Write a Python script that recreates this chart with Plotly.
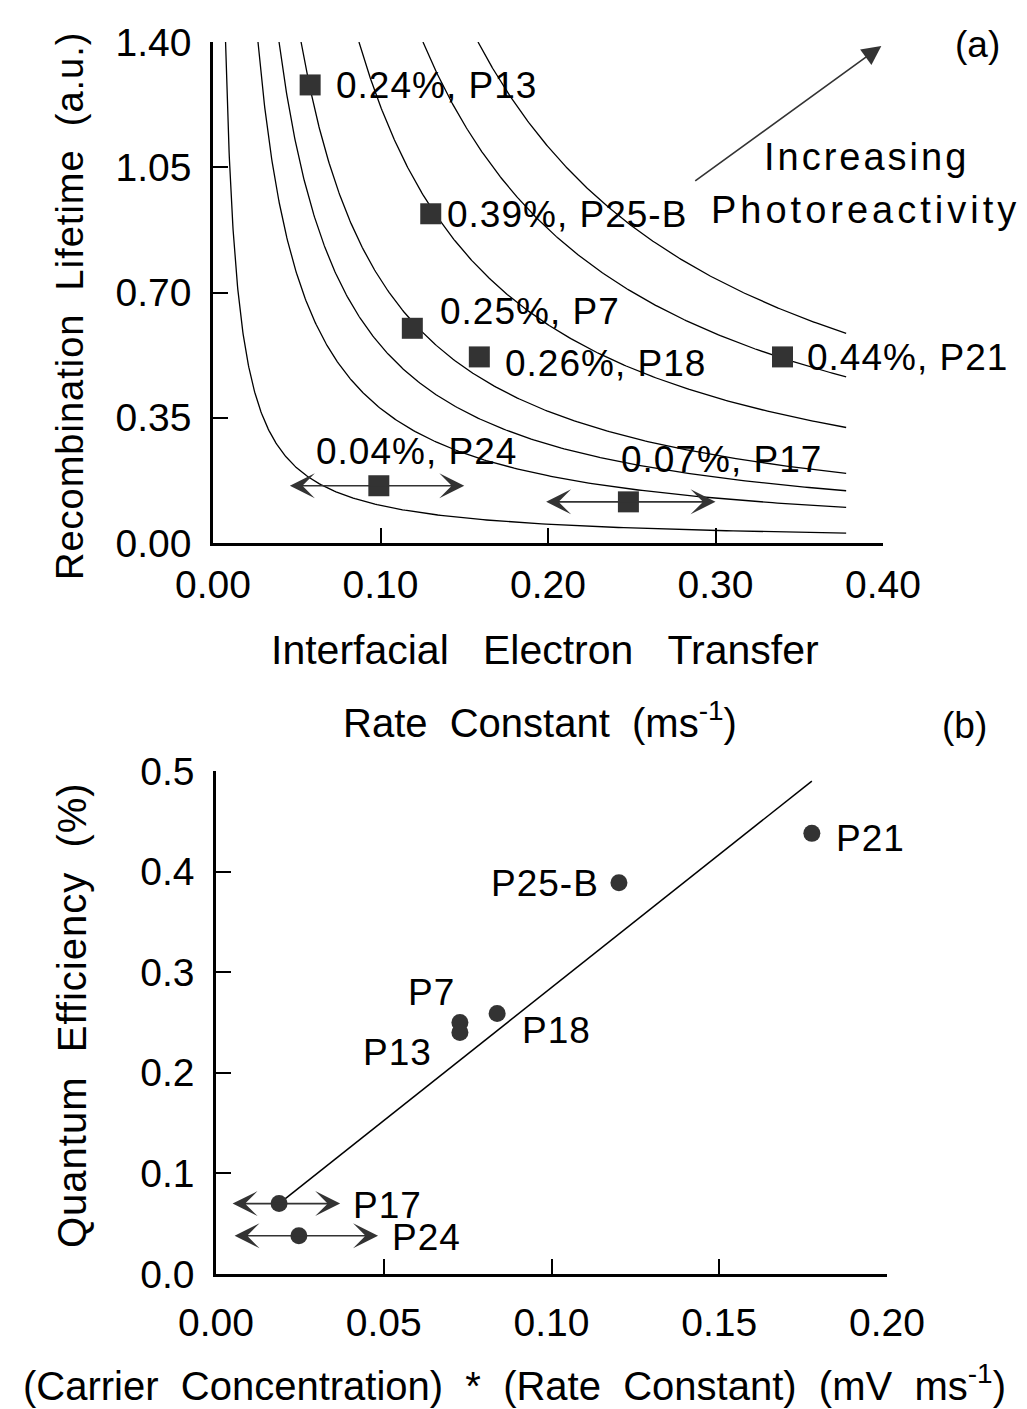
import numpy as np
import plotly.graph_objects as go

# ---------------- panel (a) data ----------------
a_samples = ["P13", "P25-B", "P7", "P18", "P21", "P24", "P17"]
a_qe_text = ["0.24%", "0.39%", "0.25%", "0.26%", "0.44%", "0.04%", "0.07%"]
a_rate = [0.058, 0.130, 0.119, 0.159, 0.340, 0.099, 0.248]          # ms^-1
a_lifetime = [1.28, 0.92, 0.60, 0.52, 0.52, 0.16, 0.115]           # a.u.
a_range_samples = ["P24", "P17"]
a_range_lo = [0.045, 0.198]
a_range_hi = [0.150, 0.300]
iso_levels = [0.0105, 0.0376, 0.0552, 0.0736, 0.122, 0.1755, 0.2215]  # k*tau = const
iso_rate_max = 0.378
trend_from = [0.287, 1.009]
trend_to = [0.399, 1.389]
a_xtick_vals = [0.0, 0.1, 0.2, 0.3, 0.4]
a_xtick_text = ["0.00", "0.10", "0.20", "0.30", "0.40"]
a_ytick_vals = [0.0, 0.35, 0.70, 1.05, 1.40]
a_ytick_text = ["0.00", "0.35", "0.70", "1.05", "1.40"]

# ---------------- panel (b) data ----------------
b_samples = ["P21", "P25-B", "P18", "P7", "P13", "P17", "P24"]
b_nk = [0.1776, 0.1201, 0.0838, 0.0727, 0.0727, 0.0188, 0.0247]    # mV ms^-1
b_qe = [0.438, 0.389, 0.259, 0.250, 0.240, 0.070, 0.038]           # %
b_range_samples = ["P17", "P24"]
b_range_lo = [0.0045, 0.0051]
b_range_hi = [0.0370, 0.0483]
fit_x = [0.0188, 0.1776]
fit_y = [0.070, 0.490]
b_xtick_vals = [0.0, 0.05, 0.10, 0.15, 0.20]
b_xtick_text = ["0.00", "0.05", "0.10", "0.15", "0.20"]
b_ytick_vals = [0.0, 0.1, 0.2, 0.3, 0.4, 0.5]
b_ytick_text = ["0.0", "0.1", "0.2", "0.3", "0.4", "0.5"]

# ---------------- styles ----------------
FONT = "Liberation Sans, Arial, Helvetica, sans-serif"
W, H = 1027, 1409
MARK = "#333333"
NB = "\u00a0"
a_label_style = {
    "P13": dict(xanchor="left", xshift=24, yshift=-1),
    "P25-B": dict(xanchor="left", xshift=14, yshift=-1),
    "P7": dict(xanchor="left", xshift=26, yshift=17),
    "P18": dict(xanchor="left", xshift=24, yshift=-7),
    "P21": dict(xanchor="left", xshift=22, yshift=-1),
    "P24": dict(xanchor="center", xshift=38, yshift=34),
    "P17": dict(xanchor="center", xshift=93, yshift=42),
}
b_label_style = {
    "P21": dict(xanchor="left", xshift=22, yshift=-5),
    "P25-B": dict(xanchor="right", xshift=-18, yshift=-1),
    "P18": dict(xanchor="left", xshift=23, yshift=-17),
    "P7": dict(xanchor="right", xshift=-3, yshift=30),
    "P13": dict(xanchor="right", xshift=-26, yshift=-20),
    "P17": dict(xanchor="left", xshift=72, yshift=-2),
    "P24": dict(xanchor="left", xshift=91, yshift=-2),
}


def px_x(p):
    return p / W


def px_y(p):
    return 1 - p / H


def spaced(text, px):
    return f'<span style="letter-spacing:{px}px">{text}</span>'


fig = go.Figure()

# iso-photoreactivity curves (tau = const / k)
for c in iso_levels:
    xs = np.geomspace(c / a_ytick_vals[-1], iso_rate_max, 300)
    fig.add_trace(go.Scatter(x=xs, y=c / xs, mode="lines",
                             line=dict(color="black", width=1.3),
                             xaxis="x", yaxis="y", hoverinfo="skip"))

fig.add_trace(go.Scatter(x=a_rate, y=a_lifetime, mode="markers",
                         marker=dict(symbol="square", size=21, color=MARK),
                         xaxis="x", yaxis="y", cliponaxis=False))

fig.add_trace(go.Scatter(x=fit_x, y=fit_y, mode="lines",
                         line=dict(color="black", width=1.5),
                         xaxis="x2", yaxis="y2"))
fig.add_trace(go.Scatter(x=b_nk, y=b_qe, mode="markers",
                         marker=dict(symbol="circle", size=17, color=MARK),
                         xaxis="x2", yaxis="y2", cliponaxis=False))

ann = []
lab_font = dict(family=FONT, size=37, color="black")

for s, q, x, y in zip(a_samples, a_qe_text, a_rate, a_lifetime):
    st = a_label_style[s]
    ann.append(dict(x=x, y=y, xref="x", yref="y", text=spaced(f"{q}, {s}", 1),
                    showarrow=False, font=lab_font, yanchor="middle", **st))
for s, x, y in zip(b_samples, b_nk, b_qe):
    st = b_label_style[s]
    ann.append(dict(x=x, y=y, xref="x2", yref="y2", text=spaced(s, 1),
                    showarrow=False, font=lab_font, yanchor="middle", **st))

# double-headed range arrows
arrow_common = dict(text="", showarrow=True, arrowside="end+start",
                    arrowhead=3, startarrowhead=3, arrowsize=2.6,
                    startarrowsize=2.6, arrowwidth=1.6, arrowcolor=MARK)
for s, lo, hi in zip(a_range_samples, a_range_lo, a_range_hi):
    y = a_lifetime[a_samples.index(s)]
    ann.append(dict(x=hi, y=y, ax=lo, ay=y, xref="x", yref="y",
                    axref="x", ayref="y", **arrow_common))
for s, lo, hi in zip(b_range_samples, b_range_lo, b_range_hi):
    y = b_qe[b_samples.index(s)]
    ann.append(dict(x=hi, y=y, ax=lo, ay=y, xref="x2", yref="y2",
                    axref="x2", ayref="y2", **arrow_common))

# trend arrow
ann.append(dict(x=trend_to[0], y=trend_to[1], ax=trend_from[0], ay=trend_from[1],
                xref="x", yref="y", axref="x", ayref="y", text="",
                showarrow=True, arrowhead=2, arrowsize=2.4, arrowwidth=1.6,
                arrowcolor=MARK))


def paper_text(x, y, text, size=37, angle=0):
    return dict(x=px_x(x), y=px_y(y), xref="paper", yref="paper", text=text,
                showarrow=False, textangle=angle, xanchor="center",
                yanchor="middle", font=dict(family=FONT, size=size, color="black"))


ann += [
    paper_text(866, 157, spaced("Increasing", 3), 38),
    paper_text(865, 210, spaced("Photoreactivity", 4), 38),
    paper_text(977, 44, "(a)", 37),
    paper_text(964, 725, "(b)", 37),
    paper_text(70, 306, spaced(f"Recombination{NB}{NB}Lifetime{NB}{NB}(a.u.)", 1), 38, -90),
    paper_text(545, 650, f"Interfacial{NB}{NB}{NB}Electron{NB}{NB}{NB}Transfer", 41),
    paper_text(540, 720, f"Rate{NB}{NB}Constant{NB}{NB}(ms<sup>-1</sup>)", 40),
    paper_text(72, 1015, spaced(f"Quantum{NB}{NB}Efficiency{NB}{NB}(%)", 1), 40, -90),
    paper_text(514, 1383,
               f"(Carrier{NB}{NB}Concentration){NB}{NB}*{NB}{NB}(Rate{NB}{NB}Constant){NB}{NB}(mV{NB}{NB}ms<sup>-1</sup>)", 40),
]

axis_common = dict(showline=True, linecolor="black", linewidth=2.5, mirror=False,
                   ticks="inside", ticklen=15, tickwidth=2, tickcolor="black",
                   showgrid=False, zeroline=False, automargin=False,
                   tickfont=dict(family=FONT, size=39, color="black"))

fig.update_layout(
    width=W, height=H,
    margin=dict(l=0, r=0, t=0, b=0, pad=0),
    paper_bgcolor="white", plot_bgcolor="white",
    showlegend=False,
    annotations=ann,
    xaxis=dict(domain=[px_x(213), px_x(883)], range=[0, 0.4], anchor="y",
               tickvals=a_xtick_vals, ticktext=a_xtick_text,
               ticklabelstandoff=5, **axis_common),
    yaxis=dict(domain=[px_y(543), px_y(42)], range=[0, 1.4], anchor="x",
               tickvals=a_ytick_vals, ticktext=a_ytick_text,
               ticklabelstandoff=11, **axis_common),
    xaxis2=dict(domain=[px_x(216), px_x(887)], range=[0, 0.2], anchor="y2",
                tickvals=b_xtick_vals, ticktext=b_xtick_text,
                ticklabelstandoff=12, **axis_common),
    yaxis2=dict(domain=[px_y(1274), px_y(771)], range=[0, 0.5], anchor="x2",
                tickvals=b_ytick_vals, ticktext=b_ytick_text,
                ticklabelstandoff=11, **axis_common),
)

fig.write_html("out.html")
